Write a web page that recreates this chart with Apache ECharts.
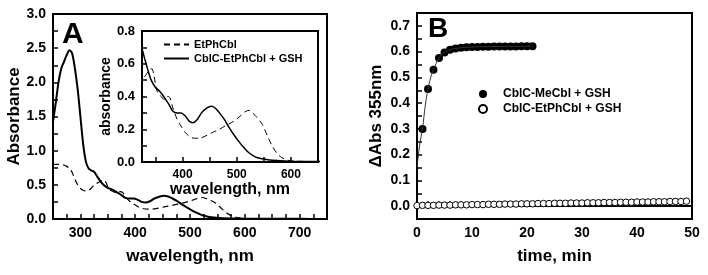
<!DOCTYPE html>
<html>
<head>
<meta charset="utf-8">
<script src="https://cdn.jsdelivr.net/npm/echarts@6/dist/echarts.min.js"></script>
<style>
  html, body { margin: 0; padding: 0; background: #fff; }
  #chart { width: 708px; height: 275px; }
</style>
</head>
<body>
<div id="chart"></div>
<script>
// spectra (panel A and inset share the same traces)
var wlSolid = [250, 255, 260, 265, 270, 275, 280, 285, 290, 295, 300, 305, 310, 315, 320,
  325, 330, 336, 342, 349, 358, 367, 375, 382, 390, 397, 405, 412, 419, 427, 435, 445, 453,
  460, 468, 477, 486, 495, 505, 514, 523, 535, 547, 560, 580, 600, 650, 700, 750];
var absSolid = [1.42, 1.7, 2.0, 2.2, 2.3, 2.4, 2.47, 2.42, 2.2, 1.9, 1.5, 1.1, 0.84, 0.74, 0.71,
  0.69, 0.63, 0.56, 0.50, 0.46, 0.43, 0.39, 0.35, 0.31, 0.30, 0.30, 0.28, 0.25, 0.24, 0.26, 0.30, 0.33, 0.34,
  0.33, 0.30, 0.26, 0.21, 0.165, 0.12, 0.085, 0.055, 0.03, 0.02, 0.012, 0.008, 0.005, 0.003, 0.002, 0.001];

var wlDashed = [250, 260, 270, 275, 280, 285, 290, 295, 300, 305, 310, 315, 320,
  325, 332, 338, 343, 347, 352, 358, 367, 373, 377, 382, 390, 395, 405, 413, 422, 431, 443, 455,
  468, 481, 490, 499, 508, 517, 523, 529, 538, 547, 556, 565, 575, 584, 595, 610, 650, 700, 750];
var absDashed = [0.80, 0.80, 0.79, 0.77, 0.74, 0.68, 0.58, 0.50, 0.45, 0.42, 0.41, 0.42, 0.45,
  0.50, 0.53, 0.56, 0.57, 0.53, 0.44, 0.41, 0.38, 0.40, 0.39, 0.33, 0.26, 0.23, 0.18, 0.155, 0.145, 0.145, 0.16, 0.18,
  0.20, 0.225, 0.24, 0.26, 0.285, 0.31, 0.315, 0.30, 0.27, 0.23, 0.165, 0.10, 0.05, 0.025, 0.01, 0.005, 0.002, 0.001, 0];

// panel B kinetics
var timeMe = [1, 2, 3, 4, 5, 6, 7, 8, 9, 10, 11, 12, 13, 14, 15, 16, 17, 18, 19, 20, 21];
var absMe = [0.30, 0.455, 0.53, 0.575, 0.597, 0.607, 0.612, 0.615, 0.617, 0.618, 0.618,
  0.619, 0.619, 0.62, 0.62, 0.62, 0.62, 0.62, 0.621, 0.621, 0.621];
var timeFit = [0, 0.5, 1, 1.5, 2, 2.5, 3, 4, 5, 6, 7, 8, 10, 15, 21];
var absFit = [0.15, 0.24, 0.30, 0.39, 0.455, 0.50, 0.53, 0.575, 0.597, 0.607, 0.612, 0.615, 0.618, 0.62, 0.621];
var timeEt = [0, 1, 2, 3, 4, 5, 6, 7, 8, 9, 10, 11, 12, 13, 14, 15, 16, 17, 18, 19, 20, 21, 22, 23, 24,
  25, 26, 27, 28, 29, 30, 31, 32, 33, 34, 35, 36, 37, 38, 39, 40, 41, 42, 43, 44, 45, 46, 47, 48, 49];
var absEt = [0.002, 0.003, 0.003, 0.003, 0.004, 0.004, 0.004, 0.005, 0.005, 0.005,
  0.006, 0.006, 0.006, 0.007, 0.007, 0.007, 0.008, 0.008, 0.008, 0.009,
  0.009, 0.009, 0.010, 0.010, 0.010, 0.011, 0.011, 0.011, 0.012, 0.012,
  0.012, 0.013, 0.013, 0.013, 0.014, 0.014, 0.014, 0.015, 0.015, 0.015,
  0.016, 0.016, 0.016, 0.017, 0.017, 0.017, 0.018, 0.018, 0.018, 0.019];

// ticks and labels
var ticksAx = [250, 275, 300, 325, 350, 375, 400, 425, 450, 475, 500, 525, 550, 575, 600, 625, 650, 675, 700, 725, 750];
var labelsAx = [300, 400, 500, 600, 700];
var ticksAy = [0, 0.25, 0.5, 0.75, 1, 1.25, 1.5, 1.75, 2, 2.25, 2.5, 2.75, 3];
var labelsAy = [0, 0.5, 1, 1.5, 2, 2.5, 3];
var ticksIx = [350, 400, 450, 500, 550, 600, 650];
var labelsIx = [400, 500, 600];
var ticksIy = [0, 0.1, 0.2, 0.3, 0.4, 0.5, 0.6, 0.7, 0.8];
var labelsIy = [0, 0.2, 0.4, 0.6, 0.8];
var ticksBx = [0, 2, 4, 6, 8, 10, 12, 14, 16, 18, 20, 22, 24, 26, 28, 30, 32, 34, 36, 38, 40, 42, 44, 46, 48, 50];
var labelsBx = [0, 10, 20, 30, 40, 50];
var ticksBy = [0, 0.05, 0.1, 0.15, 0.2, 0.25, 0.3, 0.35, 0.4, 0.45, 0.5, 0.55, 0.6, 0.65, 0.7, 0.75];
var labelsBy = [0, 0.1, 0.2, 0.3, 0.4, 0.5, 0.6, 0.7];

function zip(xs, ys) { return xs.map(function (x, i) { return [x, ys[i]]; }); }

var FONT = "Liberation Sans, Arial, sans-serif";

function axis(grid, min, max, ticks, labels, fmt, fs, name, nameFs, gap) {
  return {
    type: "value", gridIndex: grid, min: min, max: max,
    name: name, nameLocation: "middle", nameGap: gap,
    nameTextStyle: {fontFamily: FONT, fontWeight: "bold", fontSize: nameFs, color: "#000"},
    axisLine: {show: true, lineStyle: {color: "#000", width: 2}},
    axisTick: {show: true, inside: true, length: 5, customValues: ticks, lineStyle: {color: "#000", width: 1.5}},
    axisLabel: {customValues: labels, formatter: fmt, margin: 7,
      fontFamily: FONT, fontWeight: "bold", fontSize: fs, color: "#000"},
    splitLine: {show: false}
  };
}
var intFmt = function (v) { return String(Math.round(v)); };
var decFmt = function (v) { return v.toFixed(1); };

var chart = echarts.init(document.getElementById("chart"));
var option = {
  animation: false,
  backgroundColor: "#fff",
  grid: [
    {left: 53, top: 14, width: 274, height: 205, show: true, borderColor: "#000", borderWidth: 2},
    {left: 142, top: 31, width: 176, height: 131, show: true, borderColor: "#000", borderWidth: 2, backgroundColor: "#fff"},
    {left: 417, top: 13, width: 275, height: 206, show: true, borderColor: "#000", borderWidth: 2}
  ],
  xAxis: [
    axis(0, 250, 750, ticksAx, labelsAx, intFmt, 14, "wavelength, nm", 17, 29),
    axis(1, 325, 650, ticksIx, labelsIx, intFmt, 12, "wavelength, nm", 16, 17),
    axis(2, 0, 50, ticksBx, labelsBx, intFmt, 14, "time, min", 17, 29)
  ],
  yAxis: [
    axis(0, 0, 3, ticksAy, labelsAy, decFmt, 14, "Absorbance", 17, 29),
    axis(1, 0, 0.8, ticksIy, labelsIy, decFmt, 13, "absorbance", 14, 24),
    axis(2, -0.05, 0.75, ticksBy, labelsBy, decFmt, 14, "\u0394Abs 355nm", 17, 32)
  ],
  legend: [
    {
      left: 158, top: 34, orient: "vertical", itemWidth: 25, itemHeight: 8, itemGap: 3,
      itemStyle: {opacity: 0},
      textStyle: {fontFamily: FONT, fontWeight: "bold", fontSize: 11, color: "#000"},
      data: ["EtPhCbl", "CblC-EtPhCbl + GSH"]
    },
    {
      left: 473, top: 83, orient: "vertical", itemWidth: 30, itemHeight: 8, itemGap: 3,
      textStyle: {fontFamily: FONT, fontWeight: "bold", fontSize: 12, color: "#000"},
      data: ["CblC-MeCbl + GSH", "CblC-EtPhCbl + GSH "]
    }
  ],
  graphic: [
    {type: "text", left: 62, top: 20, style: {text: "A", font: "bold 30px " + FONT, fill: "#000"}},
    {type: "text", left: 428, top: 15, style: {text: "B", font: "bold 28px " + FONT, fill: "#000"}}
  ],
  series: [
    {type: "line", xAxisIndex: 0, yAxisIndex: 0, symbol: "none", smooth: 0.3,
      lineStyle: {color: "#000", width: 1.2, type: [6, 4]}, data: zip(wlDashed, absDashed)},
    {type: "line", xAxisIndex: 0, yAxisIndex: 0, symbol: "none", smooth: 0.3,
      lineStyle: {color: "#000", width: 2}, data: zip(wlSolid, absSolid)},
    {name: "EtPhCbl", type: "line", xAxisIndex: 1, yAxisIndex: 1, symbol: "none", smooth: 0.3,
      itemStyle: {color: "#000"},
      lineStyle: {color: "#000", width: 1, type: [6, 4]}, data: zip(wlDashed, absDashed)},
    {name: "CblC-EtPhCbl + GSH", type: "line", xAxisIndex: 1, yAxisIndex: 1, symbol: "none", smooth: 0.3,
      itemStyle: {color: "#000"},
      lineStyle: {color: "#000", width: 1.5}, data: zip(wlSolid, absSolid)},
    {type: "line", xAxisIndex: 2, yAxisIndex: 2, symbol: "none", smooth: 0.4,
      lineStyle: {color: "#333", width: 1}, data: zip(timeFit, absFit)},
    {name: "CblC-MeCbl + GSH", type: "scatter", xAxisIndex: 2, yAxisIndex: 2, symbol: "circle", symbolSize: 8,
      itemStyle: {color: "#000", opacity: 1}, data: zip(timeMe, absMe)},
    {name: "CblC-EtPhCbl + GSH ", type: "scatter", xAxisIndex: 2, yAxisIndex: 2, symbol: "circle", symbolSize: 6.5,
      itemStyle: {color: "#fff", borderColor: "#000", borderWidth: 1, opacity: 1}, data: zip(timeEt, absEt)}
  ]
};
chart.setOption(option, true);
</script>
</body>
</html>
